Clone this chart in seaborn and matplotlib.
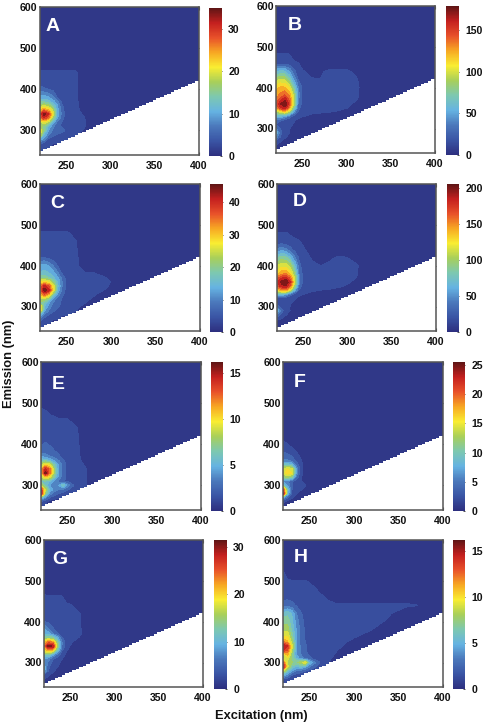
import numpy as np
import matplotlib
matplotlib.use("Agg")
import matplotlib.pyplot as plt
from matplotlib.cm import ScalarMappable
from matplotlib.colors import Normalize
import seaborn as sns

W, H = 484, 726
EX = [220,225,230,235,240,245,250,260,270,280,290,300,310,320,340,360,370,400]
EM = [240,260,270,280,290,300,310,320,330,340,350,360,370,380,400,420,440,460,480,500,520,540,600]

A = {460:[.5,.5,.5,.5,.5,.5,.3],
     440:[2.2,2.2,2.2,2.2,2.2,2.2,2.2,2.2,.3],
     420:[2.5,2.5,2.5,2.5,2.5,2.5,2.5,2.2,.3],
     400:[5,4.5,4,3.5,3,2.5,2.5,2.2,.3],
     380:[10,10,9,7,4,3,2.5,2.2,.5],
     370:[13,13,12,10,7,3.5,2.5,2.3,.6],
     360:[17,18,17,13,9,4.5,3,2.4,.8],
     350:[22,25,23,17,10,5,3,2.4,1],
     340:[26,34,30,20,10,6,3,2.5,1.5],
     330:[24,30,26,16,9,5,3,2.5,1.9],
     320:[18,20,17,10,6,4,3,2.5,2.2],
     310:[17,15,11,7,5,3.5,3,2.5,2],
     300:[21,15,9,6,5,5.5,3.5,2.5,1.5],
     290:[20,11,7,5,4,3,2.5,2.3,1],
     280:[12,8,4,3,2.5,2.5,2.3,2],
     270:[5,4,3,2.3,2.3,2.3],
     260:[3,2.5,2.2],
     240:[2,2]}
B = {500:[4,4,4,3],
     480:[10,10,10,9.5,4],
     460:[14,14,14,13,11,9.5,4],
     440:[55,60,58,45,25,14,10,5,7,11,12,11,6],
     420:[85,95,92,70,45,20,13,10,9,13,13,13,11,2],
     400:[115,120,120,105,70,35,18,12,12,14,14,14,12,4],
     380:[125,135,145,130,90,38,18,12,12,14,14,14,12,3],
     370:[135,150,165,140,95,35,17,13,13,14,14,13,10,1],
     360:[140,165,178,150,95,30,16,13,13,13,13,12,6],
     350:[120,150,160,125,70,25,15,13,13,12,12,9,3],
     340:[80,95,105,80,40,18,13,11,10,9,7,3],
     330:[55,55,45,28,15,11,9.5,6,4,2],
     320:[25,22,15,12,10,7,4],
     310:[20,15,12,11,8,3],
     300:[30,20,12,9.8,4],
     290:[55,25,12,9,2],
     280:[40,20,11,6],
     270:[20,10,5],
     260:[9,5],
     240:[5,3]}
C = {480:[2.6,2.6,2.7,2.8,2.8,2.7,2.6,1.5],
     460:[3,3,3.5,3.5,3.5,3.5,3.2,2.4,.3],
     440:[3.5,3.5,3.5,3.5,3.5,3.5,3.2,2.6,.5],
     420:[5,5,4,3.5,3.5,3.5,3.2,2.8,.8],
     400:[12,13,11,8,5,3.5,3.2,2.9,1],
     380:[15,16,15,13,9,5,3.6,3,2.5,2.6,1.5],
     370:[20,20,18,15,12,7,4,3.2,3,3,3,1.2],
     360:[27,28,26,20,14,8,4.5,3.5,3,3,3,2.2],
     350:[33,40,36,26,15,8,4.5,3.5,3,3,2.8,2],
     340:[33,45,40,26,14,7,4,3.5,3,3,2.5,1],
     330:[30,36,30,18,10,6,4,3.5,3,2.6,1.5],
     320:[24,24,19,11,7,5,4,3.5,3,2,.5],
     310:[20,17,12,8,6,5,5,3.5,2.5,1],
     300:[28,14,10,7,5.5,5,4.5,3,1.5],
     290:[27,12,8,6,4.5,4,3.5,2.5],
     280:[14,8,5,3.5,3,2.8,2.6],
     270:[8,4,3,2.6,2.5],
     260:[3,2.5,2.4],
     240:[2,2]}
D = {500:[3,1],
     480:[11,11,11,9,5,2],
     460:[13,13,13,13,13,11,6],
     440:[40,45,40,28,18,14,12,2],
     420:[75,85,82,62,40,20,14,9,3,8,12,10,3],
     400:[105,115,115,100,65,28,16,12,10,13,14,14,12,2],
     380:[130,145,150,130,90,35,18,13,13,14,14,14,11],
     370:[155,175,180,155,105,40,19,14,14,14,14,13,10],
     360:[170,195,205,175,110,40,18,14,14,14,14,12,6],
     350:[160,185,190,155,90,32,17,14,14,13,12,8,2],
     340:[115,140,145,110,55,22,15,12,10,9,6,2],
     330:[70,65,55,32,18,12,10,6,3],
     320:[14,13,12,11,11,8,4],
     310:[20,14,12,11,8,3],
     300:[30,18,12,10,4],
     290:[65,30,13,10,2],
     280:[35,18,11,5],
     270:[13,10,4],
     260:[4,3],
     240:[3,2]}
E = {500:[.4],
     480:[1,.9,.6,.5],
     460:[1.1,1.1,1.1,1,.9,.9,.85,.2],
     440:[1.2,1.2,1.2,1.2,1.2,1.1,1,.85,.1],
     420:[1.5,1.5,1.4,1.4,1.3,1.2,1.1,.95,.2],
     400:[1.8,2,1.8,1.6,1.5,1.4,1.3,1,.2],
     380:[2.6,2.6,2.4,2,1.8,1.5,1.3,1.1,.3],
     370:[4,3.6,3,2.6,2,1.6,1.4,1.1,.3],
     360:[6,6,5,4,3,2,1.4,1.1,.5],
     350:[8,10,9,6,4,2.5,1.4,1.2,.7],
     340:[10,14,12,7,4,2.5,1.4,1.2,.85],
     330:[10,15.5,12,7,4,2.5,1.4,1.2,.9],
     320:[8,10,9,6,3.5,2.3,1.5,1.2,.9],
     310:[6,6,5,3.4,2.6,2,1.7,1.2,.9],
     300:[8,6,4,3.6,4,6,3.5,1.2,.9],
     290:[14,8,5,3.5,3,2.8,2,1,.6],
     280:[15,7,3.4,2.4,1.8,1.4,1.2,.9],
     270:[6,3,1.8,1.2,1,.9],
     260:[1.5,1],
     240:[1,.8]}
F = {420:[1.1,.3],
     400:[1.4,1.3,.3],
     380:[3,2.8,2.6,1.4,.5],
     370:[3.6,3.4,3,1.8,1,.2],
     360:[5,5,4,2.6,1.4,.3],
     350:[9,9,8,4,1.8,.4],
     340:[13,15,14,6,2,.3],
     330:[14,16,15,6,1.8,.2],
     320:[11,12,10,4,1.5,.1],
     310:[6,5,3.4,1.9,1.3,.2],
     300:[9,6,3,1.9,1.6,1.4,.4],
     290:[21,9,3,2,1.4,.4],
     280:[24,8,2.6,1.4,.6],
     270:[6,3,1.4,.4],
     260:[1.5,.5],
     240:[1,.5]}
G = {480:[.4],
     460:[2,2,2,2,1.8,.6],
     440:[2.2,2.2,2.2,2.2,2.2,2,1.7,.4],
     420:[2.4,2.4,2.4,2.4,2.4,2.2,2,1.7,.1],
     400:[3.6,3.2,2.8,2.5,2.5,2.3,2.2,1.8,.1],
     380:[9,6,4,3,2.6,2.3,2.2,1.9,.1],
     370:[10,9,6,4,2.8,2.4,2.2,1.9,.1],
     360:[13,14,13,9,4,2.5,2.2,1.4],
     350:[19,24,22,13,6,2.3,1.9,.4],
     340:[22,30,29,15,6,2.2,1.4,.1],
     330:[18,22,20,11,4,1.8,.8],
     320:[12,13,9,5,2.8,1.2,.3],
     310:[8,7,4,2.8,1.8,.4],
     300:[8,5,3,2.4,.8],
     290:[9,4,2.6,1.7,.3],
     280:[9,3.6,2,.8],
     270:[3,1.9,.8],
     260:[1.8,.5],
     240:[1,.4]}
H_ = {520:[1,.3],
      500:[1.2,.9,.85,.85,.85,.85,.7,.3],
      480:[1.3,1.1,1.1,1.1,1.1,1.1,1.1,.7],
      460:[1.6,1.6,1.5,1.4,1.3,1.2,1.2,1,.7,.4,.3,.4,.4,.4,.5,.4],
      440:[2.2,2.5,2.2,1.8,1.5,1.3,1.2,1.1,1,.9,.9,.9,.9,.9,.9,.9,.85],
      420:[5.5,6,5,3,2,1.5,1.3,1.2,1.2,1.1,1.1,1.1,1.1,1.1,.85,.2],
      400:[7,7,5.5,3.5,2.5,1.5,1.3,1.2,1.2,1.2,1.2,1.2,1.1,1,.7],
      380:[8,8,6,4,2.5,1.7,1.4,1.3,1.3,1.2,1.2,1.2,1,.8,.2],
      370:[9,9,6.5,4,2.5,1.8,1.5,1.4,1.3,1.2,1.1,1,.8,.5],
      360:[10,10,7,4,2.5,1.8,1.5,1.4,1.4,1.2,1,.8,.5,.3],
      350:[12,11,8,4,2.6,1.9,1.5,1.4,1.4,1.1,.85,.5,.2],
      340:[15,14,9,4,2.8,2,1.6,1.5,1.3,1,.7,.3],
      330:[14,13,8,4,2.8,2,1.7,1.5,1.2,.85,.5],
      320:[8,11,7,4,3,2,1.8,1.5,1.2,.7],
      310:[8,9,7,5,3.5,2.6,2,1.5,1,.5],
      300:[13,8,7.5,7,8,9.5,5,2,1],
      290:[15,9,6,5,5.5,4.5,3,1.5,.9],
      280:[9,6,4,3,2.5,2,1.5,1],
      270:[5,3.5,2,1.5,1.2,1],
      260:[2,1.5,1,1],
      240:[1.5,1]}

PANELS = ["A","B","C","D","E","F","G","H"]
TABLES = [A,B,C,D,E,F,G,H_]
VMAX = [35,179,45.6,205,16.2,25.5,31.4,16.2]
CTICKS = [[0,10,20,30],[0,50,100,150],[0,10,20,30,40],[0,50,100,150,200],
          [0,5,10,15],[0,5,10,15,20,25],[0,10,20,30],[0,5,10,15]]
XTICKS = [250,300,350,400]
YTICKS = [300,400,500,600]

AX_BOX = [(39.5,199,7,155),(276,435,6,153),(40,200,184,331),(277,436,184,331),
          (41,201,362,510),(283,443,362,510),(44,203,540,687),(283,443,540,687)]
CB_BOX = [(209,222,8,156),(446,459,6,155),(210,223,184,332),(447,459,184,332),
          (211,223,362,511),(453,465,362,511),(214,227,540,689),(453,465,540,689)]
LETTER = [(.085,.87),(.12,.864),(.11,.87),(.14,.88),(.11,.85),(.106,.86),(.10,.87),(.11,.88)]

sns.set_theme(style="ticks")
plt.rcParams["font.family"] = ["Liberation Sans", "DejaVu Sans"]
plt.rcParams["font.weight"] = "bold"
CMAP = sns.blend_palette(["#2d2f7f","#3a55a5","#4b78bb","#66b3e2","#7dc8b0","#a8cf5a",
                          "#f9ed32","#f7a823","#e8512a","#c4201f","#5f1515"],
                         n_colors=256, as_cmap=True)

def to_rect(b):
    l, r, t, bt = b
    return [l/W, 1-bt/H, (r-l)/W, (bt-t)/H]

def to_matrix(table):
    Z = np.zeros((len(EM), len(EX)))
    for i, e in enumerate(EM):
        vals = table.get(e, [])
        Z[i, :len(vals)] = vals
    return Z

fig = plt.figure(figsize=(W/100, H/100), dpi=100)
mask_ex = np.arange(220, 404, 4.0)
mask_em = 250 + (mask_ex-220)*0.967
GREY = "#555555"
for k, p in enumerate(PANELS):
    ax = fig.add_axes(to_rect(AX_BOX[k]))
    levels = np.r_[0, np.linspace(VMAX[k]/20, VMAX[k], 15)]
    cf = ax.contourf(EX, EM, to_matrix(TABLES[k]), levels=levels, cmap=CMAP, extend="max")
    cf.set_edgecolor("face")
    cf.set_linewidth(0.2)
    ax.fill_between(mask_ex, 230, mask_em, step="post", color="white", lw=0, zorder=3)
    ax.set_xlim(220, 400)
    ax.set_ylim(240, 600)
    ax.set_xticks(XTICKS)
    ax.set_yticks(YTICKS)
    ax.tick_params(axis="x", direction="in", top=True, length=2, width=.8, color=GREY,
                   labelsize=7.6, pad=4, labelcolor="#111111")
    ax.tick_params(axis="y", direction="in", right=True, length=2, width=.8, color=GREY,
                   labelsize=7.6, pad=1.5, labelcolor="#111111")
    for tick in ax.get_xticklabels()+ax.get_yticklabels():
        tick.set_fontweight("bold")
    for s in ax.spines.values():
        s.set_color(GREY)
        s.set_linewidth(1.1)
        s.set_zorder(5)
    sns.despine(ax=ax, top=False, right=False)
    ax.text(*LETTER[k], p, transform=ax.transAxes, color="white", fontsize=14, fontweight="bold",
            ha="center", va="center", zorder=6)

    cax = fig.add_axes(to_rect(CB_BOX[k]))
    cb = fig.colorbar(ScalarMappable(norm=Normalize(0, VMAX[k]), cmap=CMAP), cax=cax)
    cb.set_ticks(CTICKS[k])
    cb.ax.tick_params(length=1.5, width=.6, color="#333333", direction="in", labelsize=7.6, pad=4.5,
                      labelcolor="#111111")
    for tick in cb.ax.get_yticklabels():
        tick.set_fontweight("bold")
    cb.outline.set_visible(False)

fig.text(9/W, 1-364/H, "Emission (nm)", rotation=90, ha="center", va="center",
         fontsize=9.3, fontweight="bold", color="#111111")
fig.text(261/W, 1-716/H, "Excitation (nm)", ha="center", va="center",
         fontsize=9.3, fontweight="bold", color="#111111")
fig.savefig("out.png", dpi=100, facecolor="white")
